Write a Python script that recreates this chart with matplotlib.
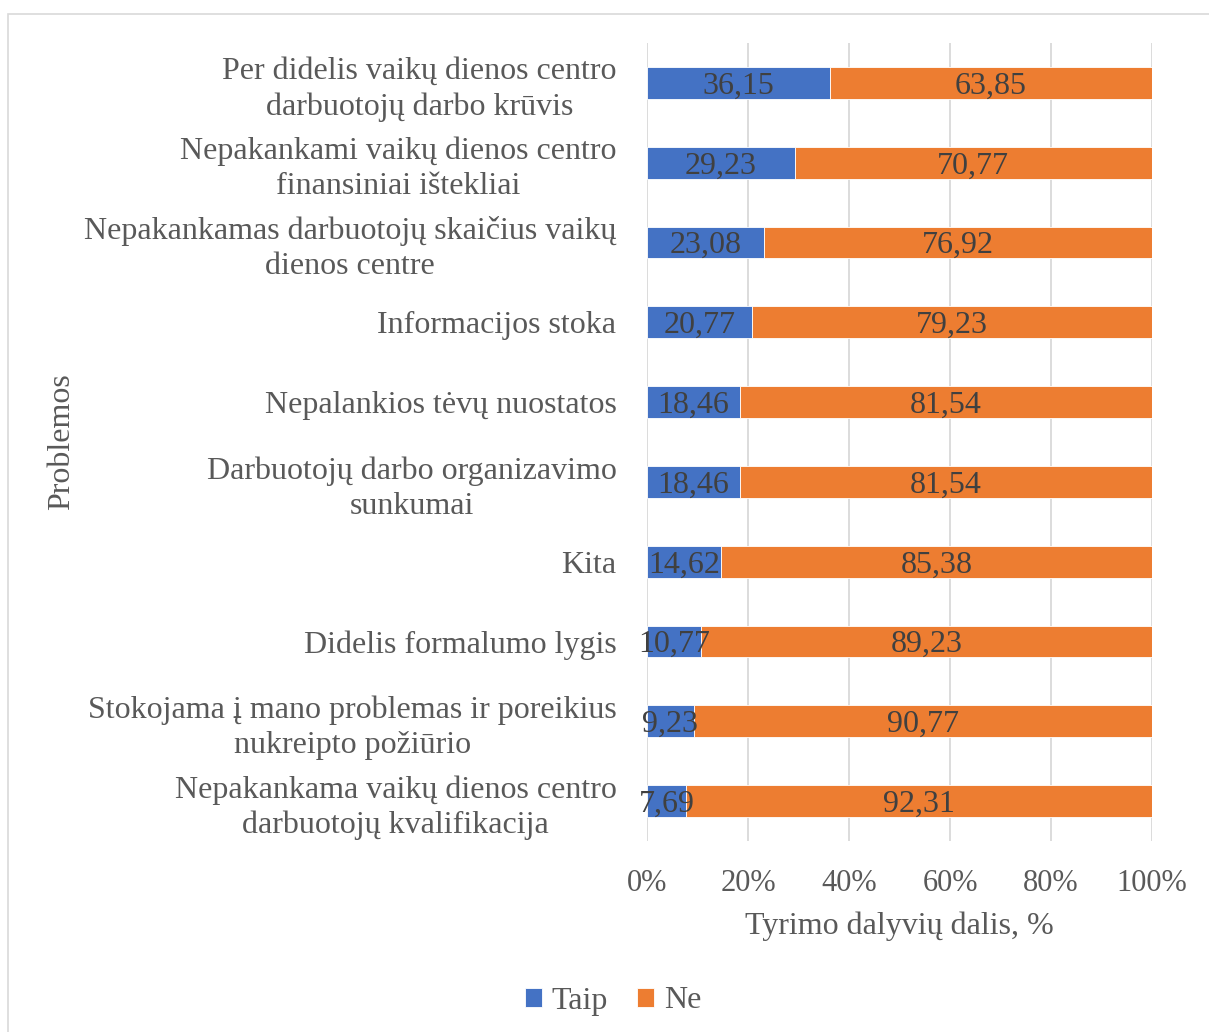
import numpy as np
import matplotlib
matplotlib.use("Agg")
import matplotlib.pyplot as plt
from matplotlib.patches import Rectangle

plt.rcParams['font.family'] = ['Liberation Serif', 'DejaVu Serif']

categories = ["Per didelis vaikų dienos centro\ndarbuotojų darbo krūvis",
              "Nepakankami vaikų dienos centro\nfinansiniai ištekliai",
              "Nepakankamas darbuotojų skaičius vaikų\ndienos centre",
              "Informacijos stoka",
              "Nepalankios tėvų nuostatos",
              "Darbuotojų darbo organizavimo\nsunkumai",
              "Kita",
              "Didelis formalumo lygis",
              "Stokojama į mano problemas ir poreikius\nnukreipto požiūrio",
              "Nepakankama vaikų dienos centro\ndarbuotojų kvalifikacija"]
taip = [36.15, 29.23, 23.08, 20.77, 18.46, 18.46, 14.62, 10.77, 9.23, 7.69]
ne = [63.85, 70.77, 76.92, 79.23, 81.54, 81.54, 85.38, 89.23, 90.77, 92.31]

blue = "#4472C4"
orange = "#ED7D31"
txt = "#595959"
lbl = "#404040"
fs = 23

fig = plt.figure(figsize=(12.09, 10.32), dpi=100)
W, H = 1209, 1032
ax = fig.add_axes([647 / W, 1 - 841 / H, (1152 - 647) / W, (841 - 43) / H])

# frame around chart area
fig.patches.append(Rectangle((8 / W, -0.01), 1.2, 1 - 14 / H + 0.01, transform=fig.transFigure,
                             fill=False, edgecolor="#D9D9D9", linewidth=1.2))

y = np.arange(len(categories))
ax.barh(y, taip, height=0.4, color=blue, edgecolor="white", linewidth=0.6, label="Taip", zorder=3)
ax.barh(y, ne, left=taip, height=0.4, color=orange, edgecolor="white", linewidth=0.6, label="Ne", zorder=3)

for i in range(len(categories)):
    ax.text(taip[i] / 2, y[i] + 0.04, f"{taip[i]:.2f}".replace(".", ","), ha="center", va="center",
            fontsize=fs, color=lbl, zorder=4)
    ax.text(taip[i] + ne[i] / 2, y[i] + 0.04, f"{ne[i]:.2f}".replace(".", ","), ha="center", va="center",
            fontsize=fs, color=lbl, zorder=4)

ax.set_xlim(0, 100)
ax.set_ylim(len(categories) - 0.5, -0.5)
ax.set_xticks([0, 20, 40, 60, 80, 100])
ax.set_xticklabels(["0%", "20%", "40%", "60%", "80%", "100%"])
ax.set_yticks(y)
ax.set_yticklabels(categories, ha="right", multialignment="center", linespacing=1.27)
ax.tick_params(axis="both", length=0, labelsize=fs, labelcolor=txt)
ax.tick_params(axis="x", labelsize=22, pad=20)
ax.tick_params(axis="y", pad=22)
ax.xaxis.grid(True, color="#D9D9D9", linewidth=1.3, zorder=0)
for s in ax.spines.values():
    s.set_visible(False)

ax.set_xlabel("Tyrimo dalyvių dalis, %", fontsize=fs, color=txt, labelpad=10)
fig.text(62 / W, 1 - 442 / H, "Problemos", rotation=90, ha="center", va="center", fontsize=fs, color=txt)

ax.legend(loc="center", bbox_to_anchor=(613 / W, 1 - 1001 / H), bbox_transform=fig.transFigure,
          ncol=2, frameon=False, fontsize=fs, labelcolor=txt, handlelength=0.55, handleheight=0.55,
          handletextpad=0.3, columnspacing=0.9)

fig.savefig("out.png", dpi=100)
